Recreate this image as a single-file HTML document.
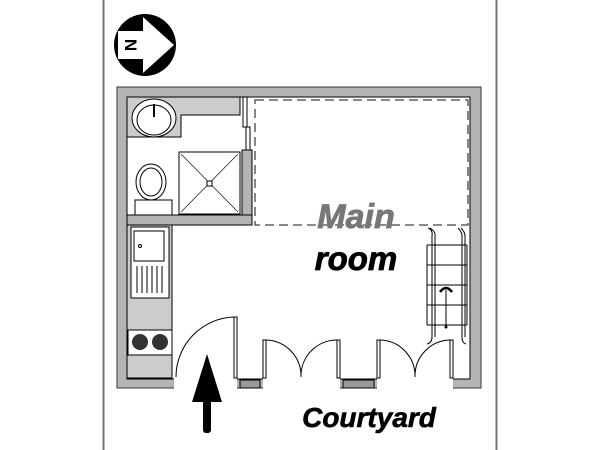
<!DOCTYPE html><html><head><style>body{margin:0;background:#fff}svg{display:block}</style></head><body>
<svg width="600" height="450" viewBox="0 0 600 450" xmlns="http://www.w3.org/2000/svg">
<rect x="103.5" y="-1" width="393" height="452" fill="#fff" stroke="#777" stroke-width="2"/>
<!-- compass -->
<circle cx="145" cy="45" r="31" fill="#000"/>
<polygon points="118,31 143,31 143,17 174,45 143,73 143,59 118,59" fill="#fff"/>
<text x="131" y="45" font-family="Liberation Sans" font-weight="bold" font-size="17" text-anchor="middle" transform="rotate(90 131 45)" dy="6">N</text>
<!-- outer walls -->
<rect x="117" y="87" width="364" height="301" fill="#b4b4b4" stroke="#333" stroke-width="1"/>
<rect x="127" y="97" width="343" height="282" fill="#fff" stroke="#000" stroke-width="1"/>
<!-- bottom openings -->
<rect x="174" y="378" width="63" height="11" fill="#fff"/>
<rect x="263" y="378" width="77" height="11" fill="#fff"/>
<rect x="377" y="378" width="76" height="11" fill="#fff"/>
<g stroke="#000" fill="#999"><rect x="240" y="380" width="20" height="8"/><rect x="343" y="380" width="31" height="8"/></g>
<!-- bathroom -->
<path d="M127 97H240V115H181V137H127Z" fill="#ccc" stroke="#000"/>
<ellipse cx="154" cy="118" rx="22" ry="19" fill="#fff" stroke="#000"/>
<ellipse cx="154" cy="120" rx="17" ry="15" fill="#fff" stroke="#000"/>
<line x1="154" y1="104" x2="154" y2="117" stroke="#000" stroke-width="2"/>
<rect x="242" y="150" width="10" height="75" fill="#b4b4b4" stroke="#000"/>
<rect x="127" y="215" width="125" height="10" fill="#b4b4b4" stroke="#000"/>
<rect x="243" y="97" width="4" height="30" fill="#fff" stroke="#000"/>
<rect x="246" y="127" width="4" height="23" fill="#fff" stroke="#000"/>
<rect x="179" y="152" width="61" height="62" fill="#fff" stroke="#000"/>
<path d="M181 154L238 212M238 154L181 212" stroke="#000" stroke-width=".6"/>
<rect x="207" y="181" width="5" height="5" fill="#fff" stroke="#000"/>
<ellipse cx="151" cy="182" rx="15" ry="18" fill="#fff" stroke="#000"/>
<ellipse cx="151" cy="182" rx="11" ry="14" fill="#fff" stroke="#000"/>
<rect x="135" y="200" width="37" height="15" fill="#fff" stroke="#000"/>
<!-- dashed -->
<rect x="255" y="100" width="213" height="125" fill="none" stroke="#444" stroke-width="1.3" stroke-dasharray="9,5"/>
<!-- kitchen -->
<rect x="127" y="225" width="45" height="153" fill="#ccc" stroke="#000"/>
<rect x="131" y="227" width="38" height="71" fill="#fff" stroke="#000"/>
<rect x="134" y="231" width="30" height="30" fill="#fff" stroke="#000"/>
<circle cx="140" cy="246" r="1.5" fill="none" stroke="#000"/>
<g stroke="#000"><line x1="137" y1="266" x2="137" y2="293"/><line x1="142" y1="266" x2="142" y2="293"/><line x1="147" y1="266" x2="147" y2="293"/><line x1="152" y1="266" x2="152" y2="293"/><line x1="157" y1="266" x2="157" y2="293"/><line x1="162" y1="266" x2="162" y2="293"/></g>
<rect x="128" y="330" width="44" height="25" fill="#fff" stroke="#000"/>
<circle cx="140" cy="342" r="8" fill="#333"/><circle cx="160" cy="342" r="8" fill="#333"/>
<!-- doors -->
<g fill="#fff" stroke="#000" stroke-width="1">
<rect x="234" y="317" width="3" height="61"/>
<rect x="263" y="340" width="3" height="38"/><rect x="337" y="340" width="3" height="38"/>
<rect x="377" y="340" width="3" height="38"/><rect x="450" y="340" width="3" height="38"/>
</g>
<g fill="none" stroke="#000" stroke-width="1">
<path d="M234 317A60 60 0 0 0 176 377"/>
<path d="M266 340A36 36 0 0 1 301 377"/><path d="M337 340A36 36 0 0 0 301 377"/>
<path d="M380 340A36 36 0 0 1 415 377"/><path d="M450 340A36 36 0 0 0 415 377"/>
</g>
<!-- stairs -->
<g fill="none" stroke="#000" stroke-width="1">
<path d="M427 245H467M427 265H467M427 285H467M427 305H467M427 325H467M427 245V325M467 245V325"/>
<path d="M428 228Q433 230 432 236V337Q432 343 427 344M430 228Q436 232 435 236V337"/>
<path d="M458 228Q462 232 462 236V337Q462 343 466 344M461 228Q465 232 465 236V337"/>
<line x1="446" y1="290" x2="446" y2="327"/>
</g>
<path d="M440 292Q446 284 452 292" stroke="#000" stroke-width="2.5" fill="none"/>
<circle cx="446" cy="327" r="1.5"/>
<!-- text -->
<text x="356" y="228" font-family="Liberation Sans" font-weight="bold" font-style="italic" font-size="34" fill="#777" stroke="#777" stroke-width=".8" text-anchor="middle">Main</text>
<text x="356" y="270" font-family="Liberation Sans" font-weight="bold" font-style="italic" font-size="33" fill="#000" stroke="#000" stroke-width=".8" text-anchor="middle">room</text>
<text x="369" y="427" font-family="Liberation Sans" font-weight="bold" font-style="italic" font-size="28" fill="#000" stroke="#000" stroke-width=".6" text-anchor="middle">Courtyard</text>
<!-- arrow -->
<polygon points="207,354 222,402 192,402" fill="#000"/>
<rect x="203" y="400" width="8" height="33" rx="3" fill="#000"/>
</svg>
</body></html>
